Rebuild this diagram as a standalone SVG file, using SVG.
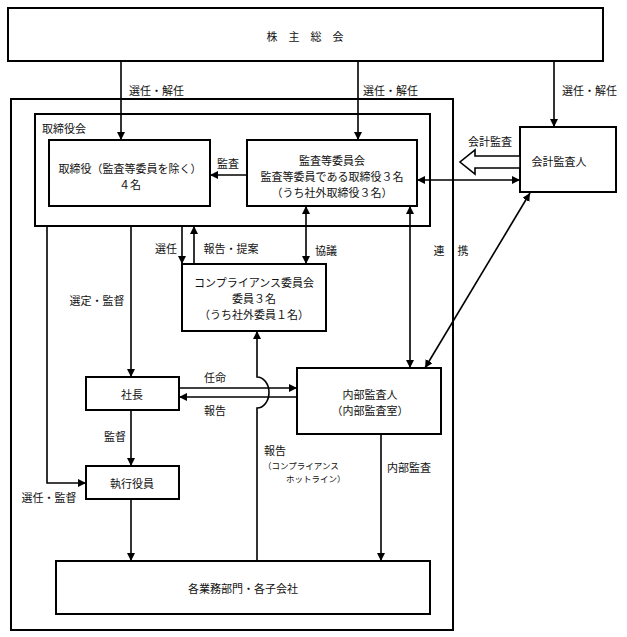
<svg xmlns="http://www.w3.org/2000/svg" width="627" height="637" viewBox="0 0 627 637">
<style>
.box{fill:#fff;stroke:#000;stroke-width:2}
.frame{fill:none;stroke:#000;stroke-width:2}
.ln{fill:none;stroke:#000;stroke-width:1.6}
text{font-family:"Noto Sans CJK JP","Noto Sans",sans-serif;font-size:11px;fill:#111;dominant-baseline:central}
.c{text-anchor:middle}
.s{font-size:8.5px}
</style>
<defs>
<marker id="ah" viewBox="0 0 8 8" refX="8" refY="4" markerWidth="8" markerHeight="8" markerUnits="userSpaceOnUse" orient="auto-start-reverse">
<path d="M0,0 L8,4 L0,8 z" fill="#000"/>
</marker>
</defs>
<rect width="627" height="637" fill="#fff"/>

<g id="company">
<rect class="frame" x="11" y="99" width="442" height="531"/>
</g>
<g id="board">
<rect class="frame" x="35" y="114" width="395" height="112"/>
<text x="42" y="128">取締役会</text>
</g>
<g id="shareholders">
<rect class="box" x="8" y="8" width="595" height="53"/>
<text class="c" x="305" y="36">株　主　総　会</text>
</g>
<g id="directors">
<rect class="box" x="49" y="140" width="161" height="66"/>
<text class="c" x="130" y="168">取締役（監査等委員を除く）</text>
<text class="c" x="130" y="184">４名</text>
</g>
<g id="audit-committee">
<rect class="box" x="247" y="140" width="170" height="66"/>
<text class="c" x="332" y="160">監査等委員会</text>
<text class="c" x="332" y="176">監査等委員である取締役３名</text>
<text class="c" x="332" y="192">（うち社外取締役３名）</text>
</g>
<g id="accounting-auditor">
<rect class="box" x="520" y="127" width="96" height="65"/>
<text class="c" x="559" y="161">会計監査人</text>
</g>
<g id="compliance">
<rect class="box" x="182" y="264" width="144" height="67"/>
<text class="c" x="254" y="282">コンプライアンス委員会</text>
<text class="c" x="254" y="298">委員３名</text>
<text class="c" x="254" y="314">（うち社外委員１名）</text>
</g>
<g id="president">
<rect class="box" x="86" y="377" width="93" height="33"/>
<text class="c" x="132" y="394">社長</text>
</g>
<g id="internal-audit">
<rect class="box" x="297" y="368" width="144" height="66"/>
<text class="c" x="370" y="394">内部監査人</text>
<text class="c" x="370" y="410">（内部監査室）</text>
</g>
<g id="executives">
<rect class="box" x="86" y="466" width="93" height="33"/>
<text class="c" x="132" y="483">執行役員</text>
</g>
<g id="departments">
<rect class="box" x="56" y="561" width="374" height="53"/>
<text class="c" x="243" y="588">各業務部門・各子会社</text>
</g>

<g id="connectors">
<line class="ln" x1="121" y1="61" x2="121" y2="140" marker-end="url(#ah)"/>
<line class="ln" x1="358" y1="61" x2="358" y2="140" marker-end="url(#ah)"/>
<line class="ln" x1="554" y1="61" x2="554" y2="127" marker-end="url(#ah)"/>
<line class="ln" x1="247" y1="175" x2="210" y2="175" marker-end="url(#ah)"/>
<line class="ln" x1="417" y1="180" x2="520" y2="180" marker-start="url(#ah)" marker-end="url(#ah)"/>
<polygon points="520,156 475,156 475,150 460,162 475,174 475,168 520,168" fill="#fff" stroke="#000" stroke-width="1.6"/>
<line class="ln" x1="182" y1="226" x2="182" y2="264" marker-end="url(#ah)"/>
<line class="ln" x1="194" y1="264" x2="194" y2="226" marker-end="url(#ah)"/>
<line class="ln" x1="306" y1="206" x2="306" y2="264" marker-start="url(#ah)" marker-end="url(#ah)"/>
<line class="ln" x1="410" y1="206" x2="410" y2="368" marker-start="url(#ah)" marker-end="url(#ah)"/>
<line class="ln" x1="530" y1="193" x2="425" y2="368" marker-start="url(#ah)" marker-end="url(#ah)"/>
<line class="ln" x1="131" y1="226" x2="131" y2="377" marker-end="url(#ah)"/>
<path class="ln" d="M47,226 V483 H86" marker-end="url(#ah)"/>
<line class="ln" x1="179" y1="388" x2="297" y2="388" marker-end="url(#ah)"/>
<line class="ln" x1="297" y1="397" x2="179" y2="397" marker-end="url(#ah)"/>
<line class="ln" x1="131" y1="410" x2="131" y2="466" marker-end="url(#ah)"/>
<line class="ln" x1="131" y1="499" x2="131" y2="561" marker-end="url(#ah)"/>
<path class="ln" d="M257,561 V408 A12 15.5 0 0 0 257,377 V331" marker-end="url(#ah)"/>
<line class="ln" x1="381" y1="434" x2="381" y2="561" marker-end="url(#ah)"/>

<text x="129" y="90">選任・解任</text>
<text x="363" y="90">選任・解任</text>
<text x="562" y="90">選任・解任</text>
<text class="c" x="228" y="163">監査</text>
<text class="c" x="490" y="141">会計監査</text>
<text class="c" x="166" y="248">選任</text>
<text class="c" x="231" y="248">報告・提案</text>
<text x="315" y="250">協議</text>
<text class="c" x="439" y="250">連</text>
<text class="c" x="463" y="250">携</text>
<text class="c" x="97" y="300">選定・監督</text>
<text class="c" x="215" y="377">任命</text>
<text class="c" x="215" y="410">報告</text>
<text class="c" x="115" y="436">監督</text>
<text x="264" y="450">報告</text>
<text class="s" x="263" y="465">（コンプライアンス</text>
<text class="s" x="286" y="478">ホットライン）</text>
<text x="387" y="467">内部監査</text>
<text class="c" x="49" y="497">選任・監督</text>
</g>
</svg>
